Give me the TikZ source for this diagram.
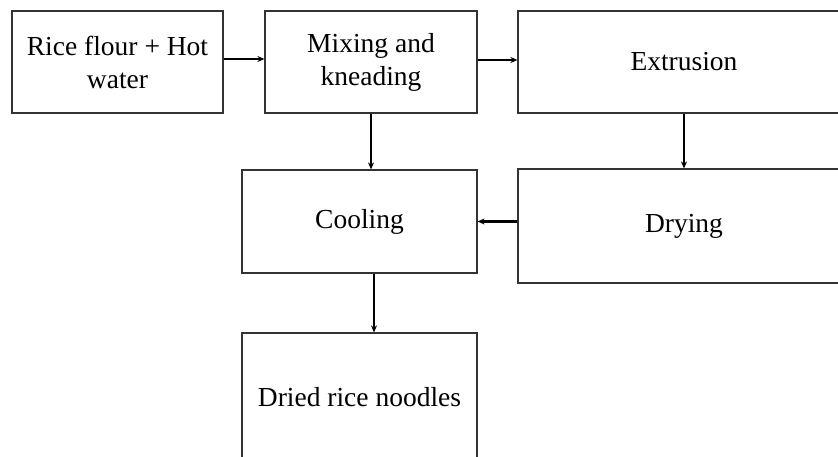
\documentclass[tikz,border=0pt]{standalone}
\usepackage{fontspec}
\setmainfont{Liberation Serif}
\usetikzlibrary{arrows.meta}
\begin{document}
\begin{tikzpicture}[x=1pt, y=-1pt,
    stage/.style={draw=black!80, line width=1.2pt, align=center, inner sep=0pt,
      font=\fontsize{27.5}{33}\selectfont},
    flow/.style={-{Stealth[length=7pt,width=6pt]}, line width=2.2pt}]
  \useasboundingbox (0,0) rectangle (838,457);
  \clip (0,0) rectangle (838,457);
  \node[stage, minimum width=211pt, minimum height=102pt] (rice) at (117.5, 62) {Rice flour + Hot\\water};
  \node[stage, minimum width=212pt, minimum height=102pt] (mix) at (371, 62) {Mixing and\\kneading};
  \node[stage, minimum width=332pt, minimum height=102pt] (extr) at (684, 62) {Extrusion};

  \node[stage, minimum width=235pt, minimum height=103pt] (cool) at (359.5, 221.5) {Cooling};
  \node[stage, minimum width=332pt, minimum height=114pt] (dry) at (684, 226) {Drying};

  \node[stage, minimum width=235pt, minimum height=128pt] (dried) at (359.5, 397) {Dried rice noodles};

  \draw[flow] ([yshift=3pt]rice.east) to ([yshift=3pt]mix.west);
  \draw[flow] ([yshift=2pt]mix.east) to ([yshift=2pt]extr.west);
  \draw[flow] (mix.south) to (mix.south |- cool.north);
  \draw[flow] (extr.south) to (dry.north);
  \draw[flow] (dry.west |- cool.east) to (cool.east);
  \draw[flow] ([xshift=14.5pt]cool.south) to ([xshift=14.5pt]dried.north);
\end{tikzpicture}
\end{document}
